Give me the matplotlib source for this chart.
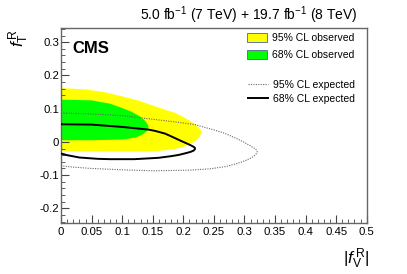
import numpy as np
import matplotlib
matplotlib.use("Agg")
import matplotlib.pyplot as plt
from matplotlib.patches import Patch
from matplotlib.lines import Line2D

# 글꼴 설정
plt.rcParams['font.family'] = ['Liberation Sans', 'DejaVu Sans']
plt.rcParams['mathtext.fontset'] = 'custom'
plt.rcParams['mathtext.rm'] = 'Liberation Sans'
plt.rcParams['mathtext.it'] = 'Liberation Sans:italic'

# 95% CL observed (노란색) 경계: 위쪽 -> 끝 -> 아래쪽
obs95_x = [0, 0.04, 0.07, 0.10, 0.125, 0.146, 0.17, 0.187, 0.20, 0.212, 0.221, 0.226, 0.229, 0.229,
           0.227, 0.222, 0.214, 0.20, 0.187, 0.16, 0.12, 0.06, 0]
obs95_y = [0.162, 0.158, 0.150, 0.137, 0.125, 0.112, 0.097, 0.087, 0.075, 0.062, 0.050, 0.041, 0.033, 0.026,
           0.016, 0.006, -0.004, -0.015, -0.021, -0.027, -0.029, -0.028, -0.027]

# 68% CL observed (초록색) 경계
obs68_x = [0, 0.05, 0.08, 0.10, 0.115, 0.128, 0.136, 0.141, 0.143,
           0.141, 0.134, 0.122, 0.10, 0.05, 0]
obs68_y = [0.127, 0.125, 0.115, 0.102, 0.091, 0.078, 0.066, 0.055, 0.045,
           0.034, 0.023, 0.013, 0.007, 0.005, 0.005]

# 68% CL expected (실선)
exp68_x = [0, 0.05, 0.10, 0.143, 0.154, 0.17, 0.181, 0.195, 0.206, 0.213, 0.217, 0.219, 0.219,
           0.217, 0.212, 0.204, 0.193, 0.18, 0.159, 0.12, 0.08, 0.06, 0.03, 0.01, 0]
exp68_y = [0.053, 0.052, 0.045, 0.037, 0.033, 0.025, 0.016, 0.004, -0.005, -0.011, -0.015, -0.018, -0.022,
           -0.026, -0.030, -0.034, -0.039, -0.043, -0.048, -0.052, -0.052, -0.051, -0.047, -0.040, -0.035]

# 95% CL expected (점선)
exp95_x = [0, 0.05, 0.10, 0.146, 0.187, 0.219, 0.252, 0.266, 0.285, 0.298, 0.309, 0.316, 0.320, 0.321,
           0.319, 0.313, 0.302, 0.288, 0.27, 0.244, 0.211, 0.15, 0.10, 0.05, 0.02, 0]
exp95_y = [0.087, 0.084, 0.079, 0.069, 0.060, 0.052, 0.035, 0.027, 0.012, 0.0, -0.011, -0.019, -0.025, -0.030,
           -0.037, -0.046, -0.056, -0.065, -0.074, -0.081, -0.085, -0.087, -0.084, -0.080, -0.076, -0.072]

x_ticks = [0, 0.05, 0.1, 0.15, 0.2, 0.25, 0.3, 0.35, 0.4, 0.45, 0.5]
x_tick_labels = ["0", "0.05", "0.1", "0.15", "0.2", "0.25", "0.3", "0.35", "0.4", "0.45", "0.5"]
y_ticks = [-0.2, -0.1, 0, 0.1, 0.2, 0.3]
y_tick_labels = ["-0.2", "-0.1", "0", "0.1", "0.2", "0.3"]

legend_labels = ["95% CL observed", "68% CL observed", "95% CL expected", "68% CL expected"]


def draw_contours(ax):
    # 관측 영역 채우기
    ax.fill(obs95_x, obs95_y, color="#ffff00", lw=0, zorder=1)
    ax.fill(obs68_x, obs68_y, color="#00ff00", lw=0, zorder=2)
    # 기대 등고선
    ax.plot(exp95_x, exp95_y, color="#666666", lw=0.8, ls=(0, (1, 1.2)), zorder=3)
    ax.plot(exp68_x, exp68_y, color="black", lw=1.4, zorder=4)


def style_axes(ax):
    ax.set_xlim(0, 0.5)
    ax.set_ylim(-0.245, 0.342)
    ax.set_xticks(x_ticks)
    ax.set_xticklabels(x_tick_labels)
    ax.set_yticks(y_ticks)
    ax.set_yticklabels(y_tick_labels)
    ax.set_xticks(np.arange(0, 0.5001, 0.01), minor=True)
    ax.set_yticks(np.arange(-0.24, 0.341, 0.02), minor=True)
    ax.tick_params(which="both", direction="in", top=False, right=False,
                   labelsize=8.2, color="#444444")
    ax.tick_params(axis="x", pad=3)
    ax.tick_params(axis="y", pad=1.5)
    ax.tick_params(which="major", length=6, width=0.8)
    ax.tick_params(which="minor", length=3, width=0.6)
    for s in ax.spines.values():
        s.set_color("#666666")
        s.set_linewidth(1.0)


def main():
    fig = plt.figure(figsize=(4.07, 2.74), dpi=100)
    ax = fig.add_axes([0.150, 0.185, 0.751, 0.712])

    draw_contours(ax)
    style_axes(ax)

    # 제목과 축 이름
    fig.text(0.878, 0.945, r"5.0 fb$^{-1}$ (7 TeV) + 19.7 fb$^{-1}$ (8 TeV)",
             ha="right", va="center", fontsize=10)
    ax.text(0.037, 0.935, "CMS", transform=ax.transAxes, fontsize=12,
            fontweight="bold", ha="left", va="top")
    fig.text(0.045, 0.86, r"$f^{\,\mathrm{R}}_{\mathrm{T}}$", rotation=90,
             ha="center", va="center", fontsize=12.5)
    fig.text(0.875, 0.055, r"$|f^{\,\mathrm{R}}_{\mathrm{V}}|$",
             ha="center", va="center", fontsize=12.5)

    # 범례
    handles1 = [Patch(facecolor="#ffff00", edgecolor="#5060a0", lw=0.6),
                Patch(facecolor="#00ff00", edgecolor="#5060a0", lw=0.6)]
    leg1 = ax.legend(handles1, legend_labels[:2], loc="upper right",
                     bbox_to_anchor=(0.985, 1.012), frameon=False, fontsize=7.5,
                     handlelength=1.9, handleheight=1.0, labelspacing=0.65,
                     borderaxespad=0.3, handletextpad=0.5)
    ax.add_artist(leg1)
    handles2 = [Line2D([], [], color="#666666", lw=0.8, ls=(0, (1, 1.2))),
                Line2D([], [], color="black", lw=1.4)]
    ax.legend(handles2, legend_labels[2:], loc="upper right",
              bbox_to_anchor=(0.985, 0.772), frameon=False, fontsize=7.5,
              handlelength=1.9, labelspacing=0.35, borderaxespad=0.3,
              handletextpad=0.5)

    fig.savefig("out.png", dpi=100)


if __name__ == "__main__":
    main()
